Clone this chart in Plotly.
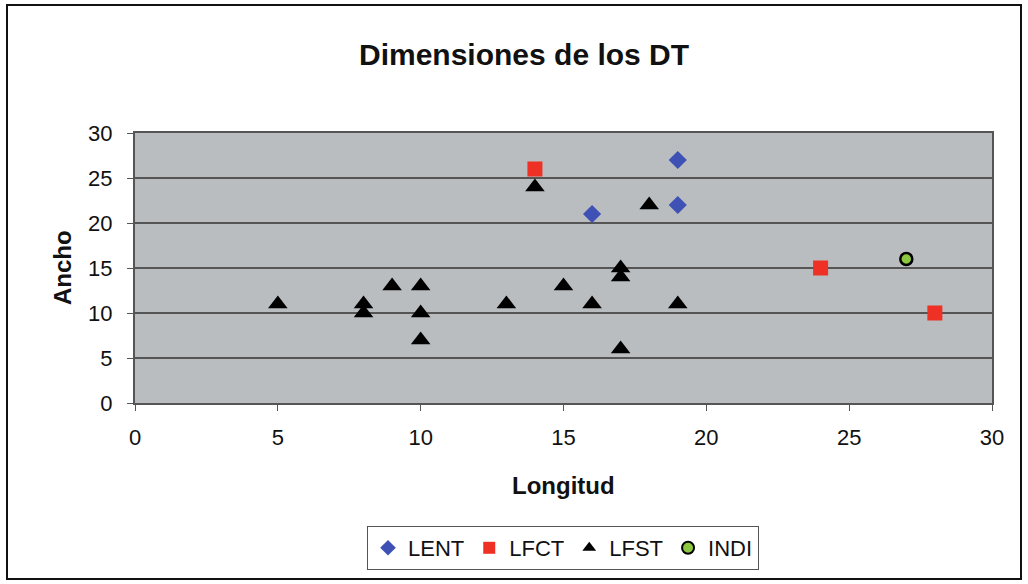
import plotly.graph_objects as go

lent_x = [16, 19, 19]
lent_y = [21, 27, 22]
lfct_x = [14, 24, 28]
lfct_y = [26, 15, 10]
lfst_x = [5, 8, 8, 9, 10, 10, 10, 13, 14, 15, 16, 17, 17, 17, 18, 19]
lfst_y = [11, 11, 10, 13, 13, 10, 7, 11, 24, 13, 11, 15, 14, 6, 22, 11]
indi_x = [27]
indi_y = [16]

W, H = 1028, 584
L, R, T, B = 135, 36, 133, 181
pw, ph = W - L - R, H - T - B

def px(x):
    return (x - L) / pw

def py(y):
    return (H - B - y) / ph

FONT = "Liberation Sans, Arial, sans-serif"

fig = go.Figure()
fig.add_trace(go.Scatter(x=lent_x, y=lent_y, mode="markers", name="LENT",
                         marker=dict(symbol="diamond", size=14, color="#3F51B5")))
fig.add_trace(go.Scatter(x=lfct_x, y=lfct_y, mode="markers", name="LFCT",
                         marker=dict(symbol="square", size=15, color="#EE3124")))
fig.add_trace(go.Scatter(x=lfst_x, y=lfst_y, mode="markers", name="LFST",
                         marker=dict(symbol="triangle-up", size=17, color="#000000")))
fig.add_trace(go.Scatter(x=indi_x, y=indi_y, mode="markers", name="INDI",
                         marker=dict(symbol="circle", size=12, color="#8DC63F",
                                     line=dict(color="#000000", width=2.5))))

fig.update_layout(
    width=W, height=H,
    margin=dict(l=L, r=R, t=T, b=B),
    paper_bgcolor="white",
    plot_bgcolor="#B9BDC0",
    font=dict(family=FONT, size=22, color="#111111"),
    showlegend=True,
    legend=dict(orientation="h", x=px(563), xanchor="center", y=py(548), yanchor="middle",
                bordercolor="#555555", borderwidth=1, bgcolor="white",
                font=dict(size=22, family=FONT, color="#111111"),
                itemsizing="constant", itemwidth=30, tracegroupgap=0),
    annotations=[
        dict(text="<b>Dimensiones de los DT</b>", x=px(524), y=py(55), xref="paper", yref="paper",
             xanchor="center", yanchor="middle",
             showarrow=False, font=dict(size=30, family=FONT, color="#111111")),
        dict(text="<b>Longitud</b>", x=px(563), y=py(485), xref="paper", yref="paper",
             xanchor="center", yanchor="middle",
             showarrow=False, font=dict(size=24, family=FONT, color="#111111")),
        dict(text="<b>Ancho</b>", x=px(62), y=py(268), xref="paper", yref="paper",
             xanchor="center", yanchor="middle",
             showarrow=False, textangle=-90, font=dict(size=24, family=FONT, color="#111111")),
    ],
    shapes=[
        dict(type="rect", xref="paper", yref="paper", x0=px(7), x1=px(1021), y0=py(5), y1=py(579),
             line=dict(color="#111111", width=2), layer="below"),
    ],
)
fig.update_xaxes(range=[0, 30], tickvals=[0, 5, 10, 15, 20, 25, 30], showgrid=False,
                 zeroline=False, showline=True, linecolor="#555555", linewidth=2, mirror=True,
                 ticks="outside", ticklen=6, tickcolor="#555555", ticklabelstandoff=8,
                 tickfont=dict(size=22))
fig.update_yaxes(range=[0, 30], tickvals=[0, 5, 10, 15, 20, 25, 30], showgrid=True,
                 gridcolor="#555555", gridwidth=2, zeroline=False, showline=True,
                 linecolor="#555555", linewidth=2, mirror=True,
                 ticks="outside", ticklen=6, tickcolor="#555555", ticklabelstandoff=10,
                 tickfont=dict(size=22))

fig.write_html("out.html", post_script="document.body.style.margin='0';",
               config={"displayModeBar": False})
